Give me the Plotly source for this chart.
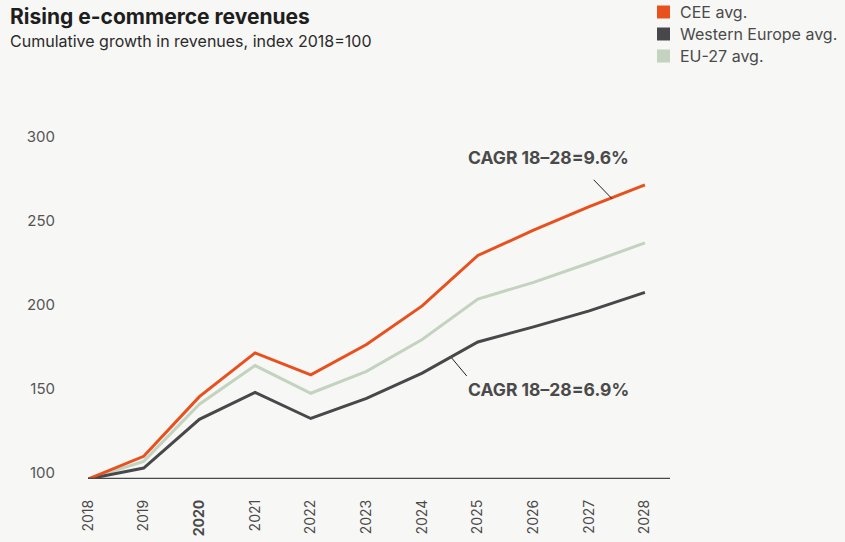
import plotly.graph_objects as go

years = [2018, 2019, 2020, 2021, 2022, 2023, 2024, 2025, 2026, 2027, 2028]
cee = [100, 113.5, 149, 175, 162, 180, 203, 233, 248, 262, 275]
western = [100, 106.5, 135.5, 151.5, 136, 148, 163, 181.5, 190.5, 200, 211]
eu27 = [100, 110.5, 144.5, 167.5, 151, 164, 183, 207, 217, 228.5, 240.5]
series_names = ["CEE avg.", "Western Europe avg.", "EU-27 avg."]
colors = ["#E8501E", "#48484A", "#C3D3BF"]
y_ticks = [100, 150, 200, 250, 300]
x_ticktext = ["2018", "2019", "<b>2020</b>", "2021", "2022", "2023", "2024", "2025", "2026", "2027", "2028"]

FONT = "Inter"
BG = "#F7F7F5"
W, H = 845, 542
ML, MR, MT, MB = 88, 175, 126, 63
PW, PH = W - ML - MR, H - MT - MB


def px(xp):
    return (xp - ML) / PW


def py(yp):
    return (H - MB - yp) / PH


fig = go.Figure()
for idx in [2, 1, 0]:
    vals = [cee, western, eu27][idx]
    fig.add_trace(go.Scatter(x=years, y=vals, mode="lines", name=series_names[idx],
                             line=dict(color=colors[idx], width=3),
                             showlegend=False, hoverinfo="skip"))

fig.update_layout(
    width=W, height=H,
    paper_bgcolor=BG, plot_bgcolor=BG,
    margin=dict(l=ML, r=MR, t=MT, b=MB, autoexpand=False),
    font=dict(family=FONT, color="#4a4a4a", size=13),
    showlegend=False,
    xaxis=dict(range=[2018, 2028.45], tickvals=years, ticktext=x_ticktext, tickangle=-90,
               showgrid=False, zeroline=False, showline=False, ticks="",
               tickfont=dict(size=14, color="#4a4a4a"), ticklabelstandoff=17),
    yaxis=dict(range=[100, 310], tickvals=y_ticks, showgrid=False, zeroline=False,
               showline=False, ticks="", tickfont=dict(size=15, color="#555555"),
               ticklabelstandoff=32, ticklabelshift=-6),
)

# baseline axis line at 100
fig.add_shape(type="line", xref="x", yref="y", x0=2018, x1=2028.45, y0=100, y1=100,
              line=dict(color="#48484A", width=2.5), layer="above")

# leader lines
fig.add_shape(type="line", xref="x", yref="y", x0=2027.08, y0=278, x1=2027.41, y1=266.7,
              line=dict(color="#222222", width=1))
fig.add_shape(type="line", xref="x", yref="y", x0=2024.53, y0=172, x1=2024.80, y1=161.3,
              line=dict(color="#222222", width=1))

fig.add_annotation(x=2024.78, y=291, xref="x", yref="y", xanchor="left", yanchor="middle",
                   text="<b>CAGR 18–28=9.6%</b>", showarrow=False,
                   font=dict(size=17.5, color="#4a4a4a", family=FONT))
fig.add_annotation(x=2024.78, y=153, xref="x", yref="y", xanchor="left", yanchor="middle",
                   text="<b>CAGR 18–28=6.9%</b>", showarrow=False,
                   font=dict(size=17.5, color="#4a4a4a", family=FONT))

# manual legend
for i, (name, col) in enumerate(zip(series_names, colors)):
    yc = 12 + 22 * i
    fig.add_shape(type="rect", xref="paper", yref="paper",
                  x0=px(657), x1=px(670), y0=py(yc - 6.5), y1=py(yc + 6.5),
                  fillcolor=col, line=dict(width=0))
    fig.add_annotation(x=px(678), y=py(yc), xref="paper", yref="paper", text=name,
                       showarrow=False, xanchor="left", yanchor="middle",
                       font=dict(size=16, color="#4a4a4a", family=FONT))

# titles
fig.add_annotation(x=px(8), y=py(16), xref="paper", yref="paper",
                   text="<b>Rising e-commerce revenues</b>",
                   showarrow=False, xanchor="left", yanchor="middle",
                   font=dict(size=21, color="#1e1e1e", family=FONT))
fig.add_annotation(x=px(8), y=py(41), xref="paper", yref="paper",
                   text="Cumulative growth in revenues, index 2018=100",
                   showarrow=False, xanchor="left", yanchor="middle",
                   font=dict(size=16, color="#2a2a2a", family=FONT))

fig.write_html("out.html", config={"displayModeBar": False},
               post_script="document.body.style.margin='0';document.body.style.background='%s';" % BG)
